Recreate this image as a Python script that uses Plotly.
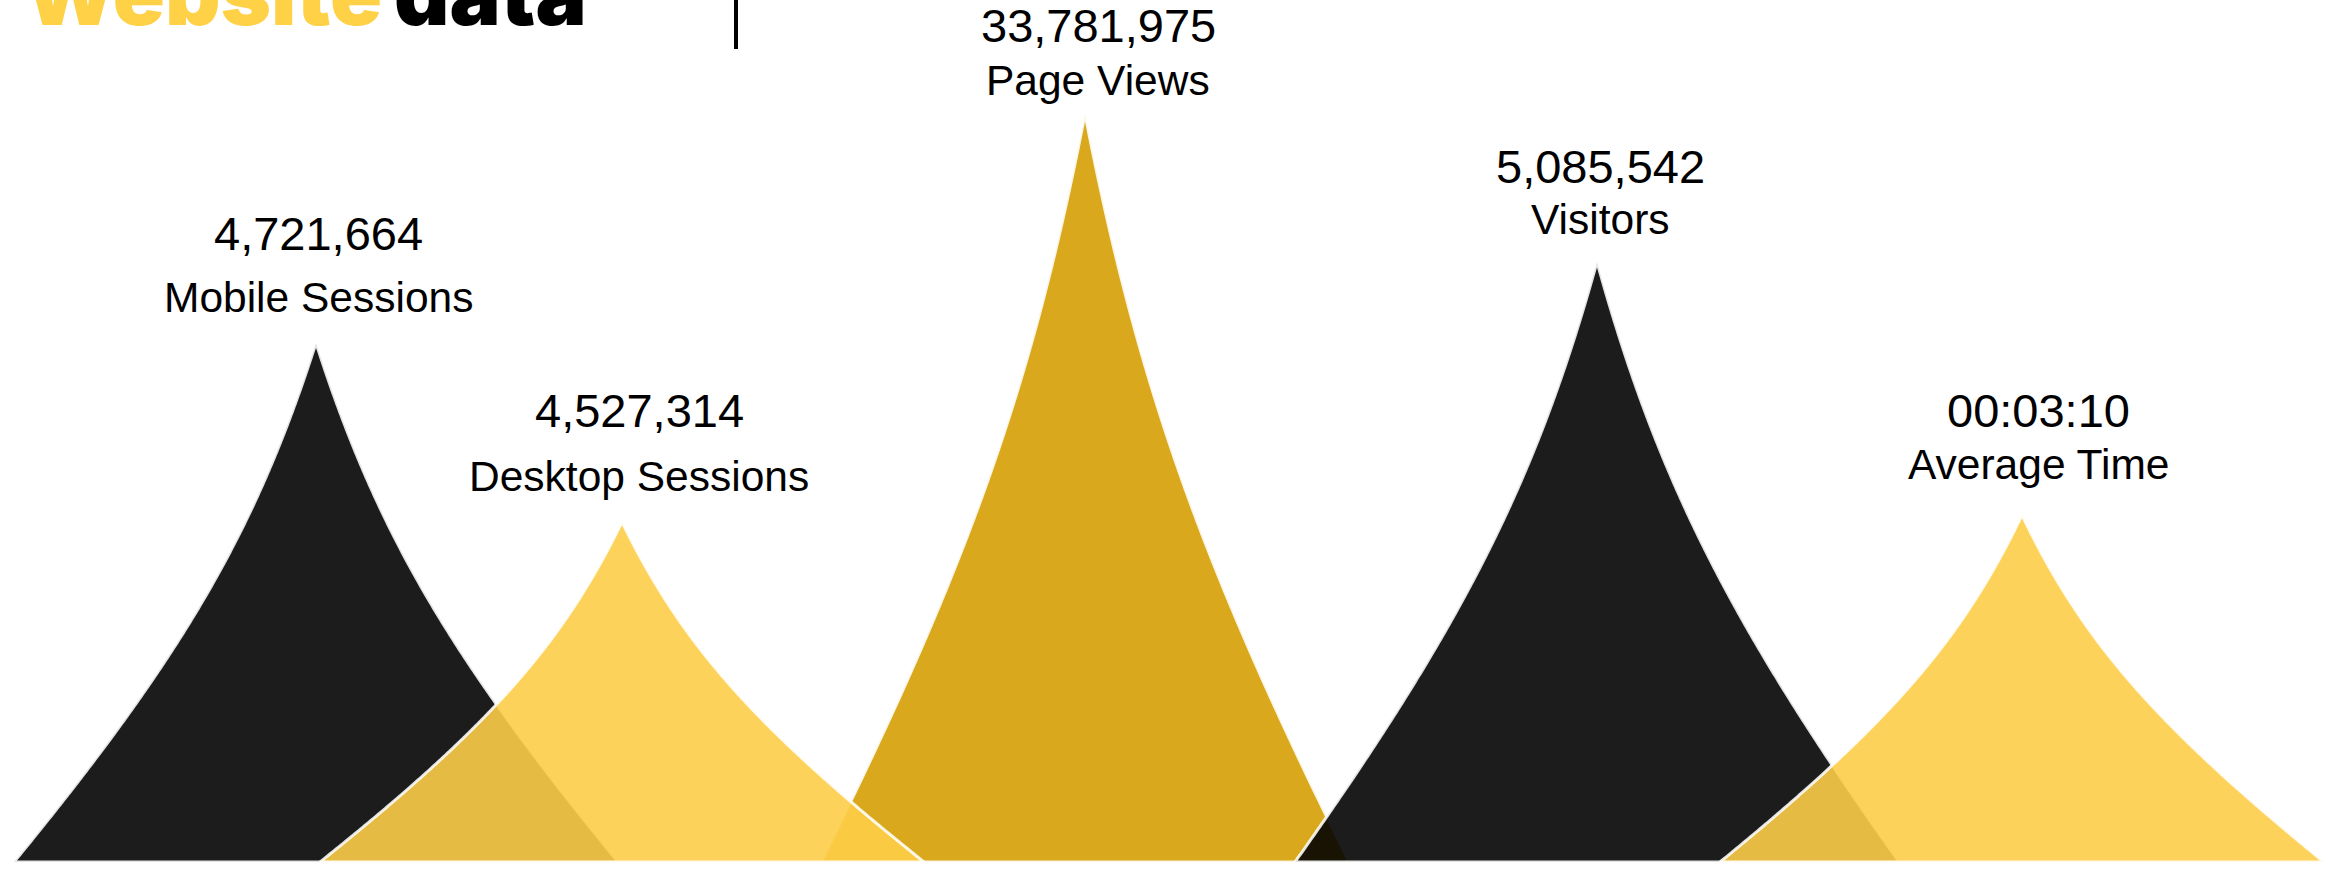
import numpy as np
import plotly.graph_objects as go

# ----------------------------- data -----------------------------
categories = ["Mobile Sessions", "Desktop Sessions", "Page Views", "Visitors", "Average Time"]
value_labels = ["4,721,664", "4,527,314", "33,781,975", "5,085,542", "00:03:10"]
# visual height of each curved column (chart units)
column_heights = [519, 340, 748, 600, 347]
title_words = ["Website", "data"]

# ---------------------------- styling ---------------------------
fill_colors = ["rgba(0,0,0,0.89)", "rgba(253,205,72,0.9)", "rgba(214,158,4,0.9)",
               "rgba(0,0,0,0.89)", "rgba(253,205,72,0.9)"]
stroke_color = "rgba(255,255,255,0.88)"

# ---------------------------- layout ----------------------------
FIG_W, FIG_H = 2331, 869
BASE_FROM_TOP = 862
column_x = [316, 622, 1085, 1597, 2022]      # column centres along the x axis
half_widths = [302, 302, 264, 302, 302]       # half width of each column base
value_dy = [110, 112, 89, 96, 105]            # value text above the peak
label_dy = [46, 46, 34, 43, 51]               # name text above the peak
text_dx = [2, 17, 13, 3, 16]
draw_order = [2, 0, 1, 3, 4]                  # Page Views sits at the back

# concave edge (cubic bezier from peak (0,0) to base corner (1,1), normalised)
P = np.array([[0.0, 0.0], [0.198, 0.36], [0.436, 0.60], [1.0, 1.0]])


def edge(n=240):
    t = np.linspace(0, 1, n)[:, None]
    pts = ((1 - t) ** 3) * P[0] + 3 * ((1 - t) ** 2) * t * P[1] + 3 * (1 - t) * t ** 2 * P[2] + t ** 3 * P[3]
    return pts[:, 0], pts[:, 1]


out, down = edge()

fig = go.Figure()
for i in draw_order:
    c, h, hw = column_x[i], column_heights[i], half_widths[i]
    xs = np.concatenate([c - hw * out[::-1], c + hw * out[1:], [c - hw]])
    ys = np.concatenate([h * (1 - down[::-1]), h * (1 - down[1:]), [0]])
    fig.add_trace(go.Scatter(
        x=xs, y=ys, mode="lines", fill="toself", fillcolor=fill_colors[i],
        line=dict(color=stroke_color, width=3, simplify=False), hoverinfo="skip",
        showlegend=False, name=categories[i]))

annotations = []
for i in range(len(categories)):
    x = column_x[i] + text_dx[i]
    h = column_heights[i]
    annotations.append(dict(x=x, y=h + value_dy[i], text=value_labels[i], showarrow=False,
                            xanchor="center", yanchor="middle",
                            font=dict(family="Liberation Sans, Arial, sans-serif", size=47, color="#000")))
    annotations.append(dict(x=x, y=h + label_dy[i], text=categories[i], showarrow=False,
                            xanchor="center", yanchor="middle",
                            font=dict(family="Liberation Sans, Arial, sans-serif", size=42.5, color="#000")))

annotations.append(dict(
    xref="paper", yref="paper", x=22 / FIG_W, y=1 + 6 / FIG_H, xanchor="left", yanchor="middle",
    showarrow=False,
    text=f"<span style='color:#FFD147'>{title_words[0]}</span>\u2009<span style='color:#000000'>{title_words[1]}</span>",
    font=dict(family="Inter, Lato, sans-serif", size=86, weight=900)))

fig.update_layout(
    width=FIG_W, height=FIG_H, margin=dict(l=0, r=0, t=0, b=0),
    paper_bgcolor="white", plot_bgcolor="white",
    xaxis=dict(range=[0, FIG_W], visible=False, fixedrange=True),
    yaxis=dict(range=[-(FIG_H - BASE_FROM_TOP), BASE_FROM_TOP], visible=False, fixedrange=True),
    annotations=annotations,
    shapes=[dict(type="line", xref="paper", yref="paper", x0=736 / FIG_W, x1=736 / FIG_W,
                 y0=1, y1=1 - 49 / FIG_H, line=dict(color="#000", width=4))],
)

fig.write_html("out.html", config={"displayModeBar": False},
               post_script="document.body.style.margin='0';document.body.style.overflow='hidden';")
